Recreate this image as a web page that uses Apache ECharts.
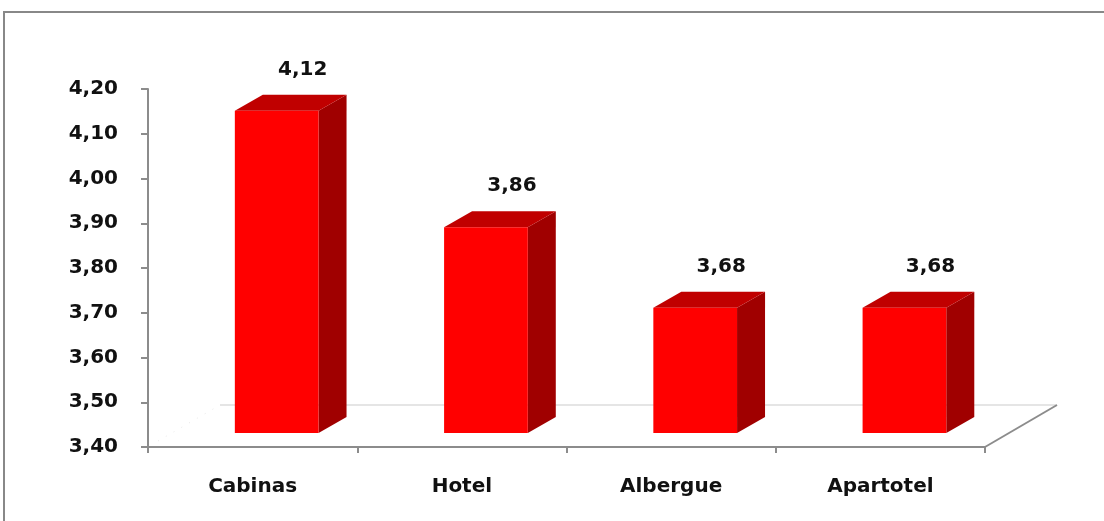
<!DOCTYPE html>
<html><head><meta charset="utf-8">
<script src="https://cdn.jsdelivr.net/npm/echarts@6/dist/echarts.min.js"></script>
<style>html,body{margin:0;padding:0;background:#fff}#c{width:1104px;height:521px}</style>
</head><body><div id="c"></div>
<script>
const categories = ['Cabinas', 'Hotel', 'Albergue', 'Apartotel'];
const values = [4.12, 3.86, 3.68, 3.68];
const yMin = 3.4, yMax = 4.2, yStep = 0.1;

const fmt = v => v.toFixed(2).replace('.', ',');
const FONT = 'DejaVu Sans';

const chart = echarts.init(document.getElementById('c'));

function barItem(params, api) {
  const idx = api.value(0), val = api.value(1);
  const top = api.coord([idx, val]);
  const base = api.coord([idx, yMin]);
  const band = api.size([1, 0])[0];
  const w = band * 0.40;
  const offX = band * 0.115, offY = -14;
  const dx = 28, dy = -16;
  const x1 = top[0] + offX - w / 2, x2 = x1 + w;
  const yT = top[1] + offY, yB = base[1] + offY;
  return {
    type: 'group',
    children: [
      { type: 'polygon', shape: { points: [[x2, yT], [x2 + dx, yT + dy], [x2 + dx, yB + dy], [x2, yB]] }, style: { fill: '#A00000' } },
      { type: 'polygon', shape: { points: [[x1, yT], [x1 + dx, yT + dy], [x2 + dx, yT + dy], [x2, yT]] }, style: { fill: '#C00000' } },
      { type: 'rect', shape: { x: x1, y: yT, width: w, height: yB - yT }, style: { fill: '#FF0000' } },
      { type: 'text', style: { text: fmt(val), x: (x1 + x2) / 2 + dx / 2 + 12, y: yT + dy - 25, align: 'center', verticalAlign: 'middle', font: 'bold 20px "' + FONT + '"', fill: '#111' } }
    ]
  };
}

function floorItem(params, api) {
  const band = api.size([1, 0])[0];
  const left = api.coord([0, yMin]);
  const right = api.coord([categories.length - 1, yMin]);
  const lx = left[0] - band / 2, rx = right[0] + band / 2, y = left[1];
  const fx = 72, fy = -42;
  return {
    type: 'group',
    children: [
      { type: 'line', shape: { x1: lx + fx, y1: y + fy, x2: rx + fx, y2: y + fy }, style: { stroke: '#dddddd', lineWidth: 1.5 } },
      { type: 'line', shape: { x1: rx, y1: y, x2: rx + fx, y2: y + fy }, style: { stroke: '#8c8c8c', lineWidth: 2 } },
      { type: 'line', shape: { x1: lx + 10, y1: y - 6, x2: lx + fx, y2: y + fy }, style: { stroke: '#e6e6e6', lineWidth: 1, lineDash: [1, 8] } }
    ]
  };
}

chart.setOption({
  animation: false,
  graphic: [
    { type: 'rect', shape: { x: 4, y: 12, width: 1120, height: 530 }, style: { fill: 'none', stroke: '#888', lineWidth: 2 }, z: 0 }
  ],
  grid: { left: 148, right: 119, top: 89, bottom: 74 },
  xAxis: {
    type: 'category', data: categories, boundaryGap: true,
    axisLine: { lineStyle: { color: '#8c8c8c', width: 2 } },
    axisTick: { show: true, length: 6, lineStyle: { color: '#8c8c8c', width: 2 } },
    axisLabel: { color: '#111', fontFamily: FONT, fontWeight: 'bold', fontSize: 20, margin: 30 }
  },
  yAxis: {
    type: 'value', min: yMin, max: yMax, interval: yStep,
    axisLine: { show: true, lineStyle: { color: '#8c8c8c', width: 2 } },
    axisTick: { show: true, length: 7, lineStyle: { color: '#8c8c8c', width: 2 } },
    splitLine: { show: false },
    axisLabel: { color: '#111', fontFamily: FONT, fontWeight: 'bold', fontSize: 20, margin: 30, formatter: v => fmt(v) }
  },
  series: [
    { type: 'custom', renderItem: floorItem, data: [[0, yMin]], silent: true, z: 1 },
    { type: 'custom', renderItem: barItem, data: values.map((v, i) => [i, v]), z: 2 }
  ]
});
</script></body></html>
